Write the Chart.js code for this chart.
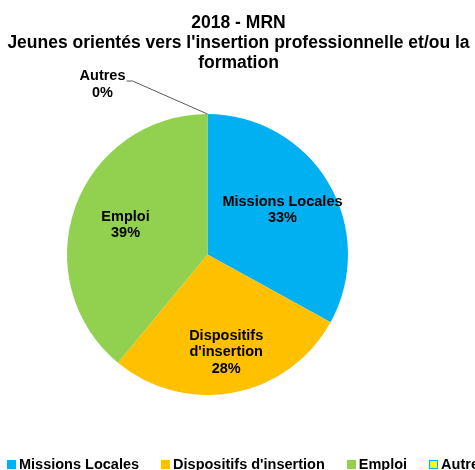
<!DOCTYPE html>
<html>
<head>
<meta charset="utf-8">
<script src="https://cdn.jsdelivr.net/npm/chart.js@4.4.1/dist/chart.umd.min.js"></script>
<style>
    html, body { margin: 0; padding: 0; background: #fff; }
    body { width: 475px; height: 470px; position: relative; overflow: hidden; font-family: "Liberation Sans", Arial, sans-serif; color: #000; }
    #graphique { position: absolute; left: 0; top: 0; }
    #titre { position: absolute; left: 0; top: 12px; width: 477px; text-align: center; font-weight: bold; font-size: 17.5px; line-height: 20px; }
    #legende { position: absolute; left: 7px; top: 456px; white-space: nowrap; font-weight: bold; font-size: 14.5px; line-height: 16px; }
    .item { display: inline-block; margin-right: 22px; }
    .carre { display: inline-block; width: 9px; height: 9px; margin-right: 3px; box-sizing: border-box; border: 1px solid; }
</style>
</head>
<body>
<canvas id="graphique" width="475" height="470"></canvas>
<div id="titre">2018 - MRN<br>Jeunes orientés vers l'insertion professionnelle et/ou la<br>formation</div>
<div id="legende"></div>
<script>
// donnees du graphique
const categories = ['Missions Locales', "Dispositifs d'insertion", 'Emploi', 'Autres'];
const valeurs = [33, 28, 39, 0];
const couleurs = ['#00B0F0', '#FFC000', '#92D050', '#FFFF00'];
const bordures = ['#00B0F0', '#FFC000', '#92D050', '#00B0F0'];
// libelles sur les parts (retour a la ligne comme dans Excel)
const libellesParts = [['Missions Locales'], ['Dispositifs', "d'insertion"], ['Emploi'], ['Autres']];

(function() {
    const total = valeurs.reduce((a, b) => a + b, 0);

    const etiquettes = {
        id: 'etiquettes',
        afterDatasetsDraw(chart) {
            const ctx = chart.ctx;
            const meta = chart.getDatasetMeta(0);
            ctx.save();
            ctx.font = 'bold 14.5px "Liberation Sans", Arial, sans-serif';
            ctx.fillStyle = '#000';
            ctx.textAlign = 'center';
            ctx.textBaseline = 'middle';
            const hauteurLigne = 16.5;
            meta.data.forEach((arc, i) => {
                const lignes = [...libellesParts[i], Math.round(valeurs[i] / total * 100) + '%'];
                const p = arc.getProps(['x', 'y', 'startAngle', 'endAngle', 'outerRadius'], true);
                const angle = (p.startAngle + p.endAngle) / 2;
                let cx, cy;
                if (valeurs[i] === 0) {
                    // etiquette exterieure avec trait de rappel
                    const x0 = p.x + Math.cos(angle) * p.outerRadius;
                    const y0 = p.y + Math.sin(angle) * p.outerRadius;
                    const coudeX = x0 - 75, coudeY = y0 - 33;
                    ctx.strokeStyle = '#595959';
                    ctx.lineWidth = 1;
                    ctx.beginPath();
                    ctx.moveTo(x0, y0);
                    ctx.lineTo(coudeX, coudeY);
                    ctx.lineTo(coudeX - 6, coudeY);
                    ctx.stroke();
                    const w = Math.max(...lignes.map(l => ctx.measureText(l).width));
                    cx = coudeX - 7 - w / 2;
                    cy = coudeY + 3.5;
                } else {
                    // plus il y a de lignes, plus on s'eloigne du centre
                    const r = p.outerRadius * (0.44 + 0.09 * lignes.length);
                    cx = p.x + Math.cos(angle) * r;
                    cy = p.y + Math.sin(angle) * r;
                }
                lignes.forEach((l, k) => {
                    ctx.fillText(l, cx, cy + (k - (lignes.length - 1) / 2) * hauteurLigne);
                });
            });
            ctx.restore();
        }
    };

    new Chart(document.getElementById('graphique'), {
        type: 'pie',
        data: {
            labels: categories,
            datasets: [{
                data: valeurs,
                backgroundColor: couleurs,
                borderWidth: 0
            }]
        },
        options: {
            responsive: false,
            animation: false,
            layout: { padding: { left: 67, right: 127, top: 114, bottom: 75 } },
            plugins: {
                legend: { display: false },
                title: { display: false },
                tooltip: { enabled: false }
            }
        },
        plugins: [etiquettes]
    });

    // legende en bas (coupee a droite comme l'original)
    const legende = document.getElementById('legende');
    categories.forEach((cat, i) => {
        const item = document.createElement('span');
        item.className = 'item';
        const carre = document.createElement('span');
        carre.className = 'carre';
        carre.style.background = couleurs[i];
        carre.style.borderColor = bordures[i];
        item.appendChild(carre);
        item.appendChild(document.createTextNode(cat));
        legende.appendChild(item);
    });
})();
</script>
</body>
</html>
